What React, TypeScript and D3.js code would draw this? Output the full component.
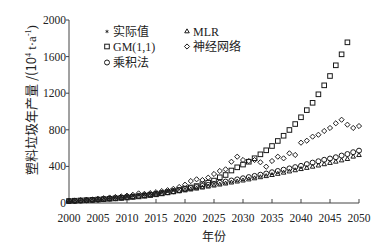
import React from "react";
import * as d3 from "d3";

const years: number[] = d3.range(2000, 2051);
const yTicks = [0, 400, 800, 1200, 1600, 2000];
const xTicks = [2000, 2005, 2010, 2015, 2020, 2025, 2030, 2035, 2040, 2045, 2050];

const actualYears = d3.range(2000, 2019);
const actual = [20, 23, 27, 31, 35, 40, 46, 52, 58, 64, 71, 79, 87, 95, 104, 113, 123, 134, 146];

const gmYears = d3.range(2000, 2049);
const gm = [22, 25, 28, 31, 34, 38, 42, 46, 50, 55, 60, 66, 72, 79, 87, 95, 105, 116, 128, 142,
  158, 170, 185, 205, 222, 245, 281, 306, 355, 390, 420, 451, 489, 532, 576, 623, 678, 735, 798, 863,
  937, 1015, 1095, 1188, 1286, 1388, 1505, 1625, 1756];

const product = [20, 23, 26, 30, 34, 38, 43, 48, 53, 59, 65, 71, 78, 85, 93, 101, 110, 119, 129, 140,
  152, 163, 174, 186, 198, 210, 222, 234, 246, 258, 270, 283, 296, 309, 322, 336, 350, 364, 378, 392,
  406, 425, 441, 456, 472, 486, 500, 518, 535, 555, 572];

const mlr = [15, 18, 21, 24, 28, 32, 36, 41, 46, 51, 57, 63, 69, 76, 83, 91, 99, 107, 116, 126,
  136, 146, 156, 167, 178, 189, 200, 211, 222, 233, 244, 256, 268, 280, 292, 304, 317, 330, 343, 356,
  369, 382, 395, 408, 422, 436, 450, 464, 479, 505, 522];

const neural = [22, 26, 30, 34, 38, 45, 52, 60, 66, 72, 80, 90, 105, 100, 108, 118, 130, 140, 155, 175,
  200, 240, 259, 251, 277, 317, 350, 368, 451, 506, 470, 459, 470, 445, 397, 459, 506, 488, 543, 525,
  659, 681, 725, 746, 787, 820, 871, 910, 856, 820, 841];

const W = 390, H = 251;
const margin = { left: 69, right: 31, top: 20, bottom: 48 };
const INK = "#1a1a1a";
const AXIS = "#444";
const TEXT = "#222";
const SERIF = "'Liberation Serif', 'Times New Roman', 'Noto Sans CJK SC', serif";
const CJK = "'Noto Sans CJK SC', 'Liberation Serif', sans-serif";

const x = d3.scaleLinear().domain([2000, 2050]).range([margin.left, W - margin.right]);
const y = d3.scaleLinear().domain([0, 2000]).range([H - margin.bottom, margin.top]);

type Kind = "star" | "square" | "circle" | "diamond" | "triangle";

function Marker({ kind, cx, cy }: { kind: Kind; cx: number; cy: number }) {
  const common = { fill: "none", stroke: INK, strokeWidth: 1 };
  if (kind === "square") return <rect x={cx - 2.3} y={cy - 2.3} width={4.6} height={4.6} {...common} />;
  if (kind === "circle") return <circle cx={cx} cy={cy} r={2.5} {...common} />;
  if (kind === "diamond") {
    const p = d3.symbol(d3.symbolDiamond2, 17)();
    return <path d={p || ""} transform={`translate(${cx},${cy})`} {...common} />;
  }
  if (kind === "triangle") {
    const p = d3.symbol(d3.symbolTriangle2, 15)();
    return <path d={p || ""} transform={`translate(${cx},${cy})`} {...common} />;
  }
  const p = d3.symbol(d3.symbolAsterisk, 8)();
  return <path d={p || ""} transform={`translate(${cx},${cy})`} fill="none" stroke={INK} strokeWidth={0.8} />;
}

export default function App() {
  const x0 = x(2000), x1 = x(2050), y0 = y(0), y1 = y(2000);
  const series: { kind: Kind; xs: number[]; vs: number[] }[] = [
    { kind: "triangle", xs: years, vs: mlr },
    { kind: "circle", xs: years, vs: product },
    { kind: "square", xs: gmYears, vs: gm },
    { kind: "diamond", xs: years, vs: neural },
    { kind: "star", xs: actualYears, vs: actual },
  ];
  const legendItems: { kind: Kind; label: string; lx: number; ly: number }[] = [
    { kind: "star", label: "实际值", lx: 107, ly: 31.5 },
    { kind: "square", label: "GM(1,1)", lx: 107, ly: 46.5 },
    { kind: "circle", label: "乘积法", lx: 107, ly: 62.5 },
    { kind: "triangle", label: "MLR", lx: 187, ly: 31.5 },
    { kind: "diamond", label: "神经网络", lx: 187, ly: 46.5 },
  ];
  return (
    <svg width={W} height={H} style={{ display: "block", position: "absolute", left: 0, top: 0, background: "#fff" }}>
      <rect width={W} height={H} fill="#fff" />
      {/* axes */}
      <line x1={x0} x2={x1} y1={y0} y2={y0} stroke={AXIS} strokeWidth={1} />
      <line x1={x0} x2={x0} y1={y0} y2={y1} stroke={AXIS} strokeWidth={1} />
      {xTicks.map((t) => (
        <g key={"x" + t}>
          <line x1={x(t)} x2={x(t)} y1={y0} y2={y0 - 4} stroke={AXIS} strokeWidth={1} />
          <text x={x(t)} y={y0 + 19} textAnchor="middle" fontFamily={SERIF} fontSize={11.5} fill={TEXT}>{t}</text>
        </g>
      ))}
      {yTicks.map((t) => (
        <g key={"y" + t}>
          <line x1={x0} x2={x0 - 3} y1={y(t)} y2={y(t)} stroke={AXIS} strokeWidth={1} />
          <text x={x0 - 3} y={y(t)} dy="0.35em" textAnchor="end" fontFamily={SERIF} fontSize={11.5} fill={TEXT}>{t}</text>
        </g>
      ))}
      <text x={(x0 + x1) / 2} y={241} textAnchor="middle" fontFamily={CJK} fontSize={12} fill={TEXT}>年份</text>
      <text transform={`translate(36,100) rotate(-90)`} textAnchor="middle" fontFamily={CJK} fontSize={13} fill={TEXT}>
        塑料垃圾年产量 /(10<tspan fontSize={8} dy={-5} fontFamily={SERIF}>4</tspan>
        <tspan dy={5} fontFamily={SERIF} fontSize={13}> t·a</tspan>
        <tspan fontSize={8} dy={-5} fontFamily={SERIF}>-1</tspan>
        <tspan dy={5} fontFamily={SERIF} fontSize={13}>)</tspan>
      </text>
      {/* data */}
      {series.map((s) => (
        <g key={s.kind}>
          {s.vs.map((v, i) => (
            <Marker key={i} kind={s.kind} cx={x(s.xs[i])} cy={y(v)} />
          ))}
        </g>
      ))}
      {/* legend */}
      {legendItems.map((l) => (
        <g key={l.label}>
          <Marker kind={l.kind} cx={l.lx} cy={l.ly} />
          <text x={l.lx + 6} y={l.ly} dy="0.35em" fontFamily={SERIF} fontSize={12} fill={TEXT}>{l.label}</text>
        </g>
      ))}
    </svg>
  );
}
